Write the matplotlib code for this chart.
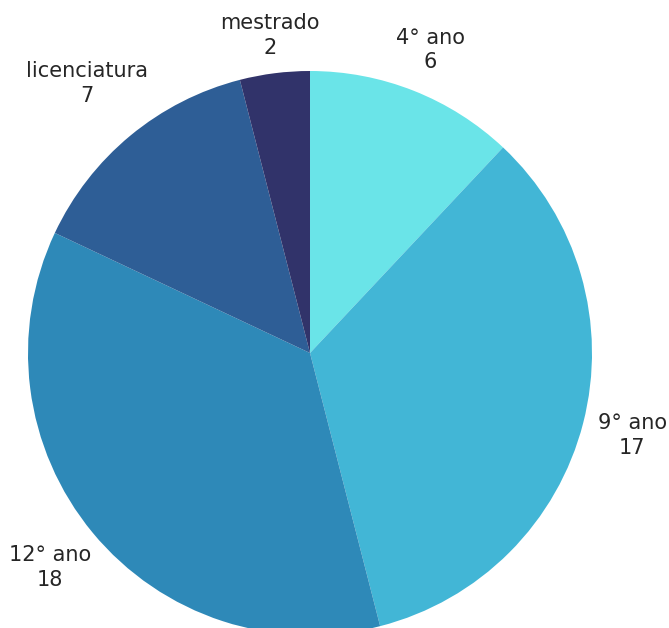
import matplotlib
matplotlib.use("Agg")
import matplotlib.pyplot as plt
import numpy as np

categories = ["4° ano", "9° ano", "12° ano", "licenciatura", "mestrado"]
values = [6, 17, 18, 7, 2]
colors = ["#6AE4E8", "#42B6D6", "#2E89B8", "#2E5E96", "#31336A"]
label_dist = [1.156, 1.18, 1.195, 1.24, 1.135]

W, H = 669, 628
fig = plt.figure(figsize=(W / 100, H / 100), dpi=100)
ax = fig.add_axes([0, 0, 1, 1])
cx, cy, r = 310, H - 353, 282
wedges, _ = ax.pie(values, colors=colors, startangle=90, counterclock=False,
                   center=(cx, cy), radius=r, wedgeprops=dict(linewidth=0))
for w, cat, v, d in zip(wedges, categories, values, label_dist):
    ang = np.deg2rad((w.theta1 + w.theta2) / 2)
    x = cx + d * r * np.cos(ang)
    y = cy + d * r * np.sin(ang)
    ax.text(x, y, f"{cat}\n{v}", ha="center", va="center", fontsize=15,
            family="DejaVu Sans", color="#262626", linespacing=1.3)
ax.set_xlim(0, W)
ax.set_ylim(0, H)
ax.set_aspect("equal")
ax.axis("off")
fig.savefig("out.png", dpi=100)
